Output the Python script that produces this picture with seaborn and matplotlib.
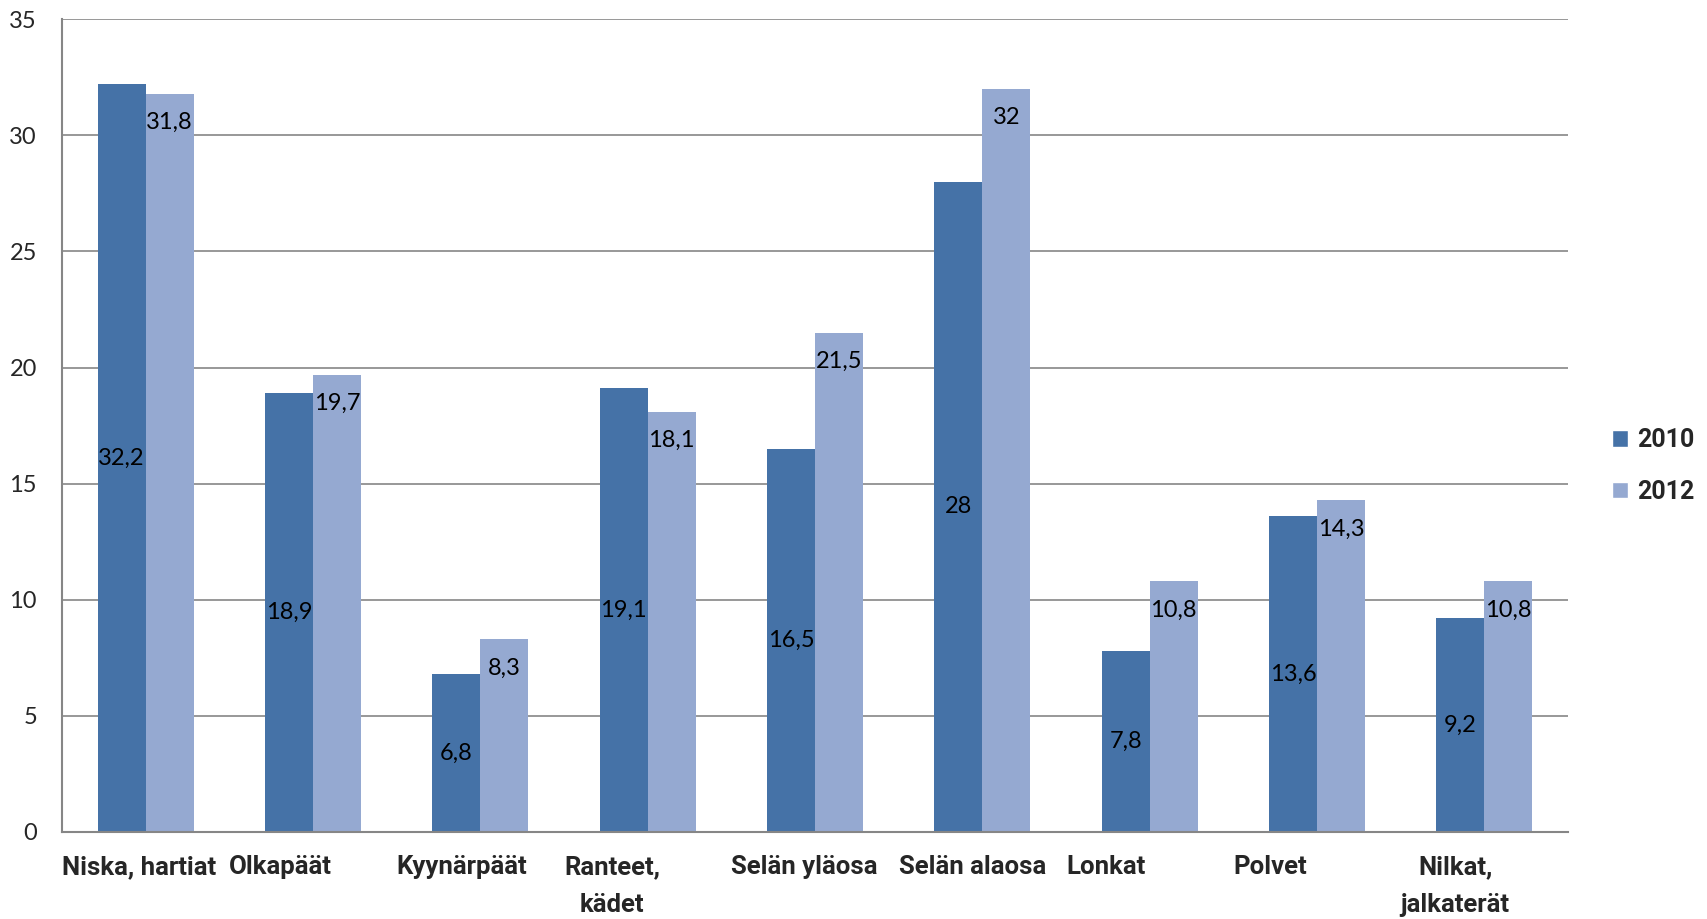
import matplotlib
matplotlib.use('Agg')
import matplotlib.pyplot as plt
import matplotlib.transforms as mtransforms
from matplotlib.patches import Patch
import seaborn as sns
import pandas as pd

# Tuki- ja liikuntaelinoireet kehon alueittain, 2010 vs 2012
alueet = ['Niska, hartiat', 'Olkapäät', 'Kyynärpäät', 'Ranteet,\nkädet',
          'Selän yläosa', 'Selän alaosa', 'Lonkat', 'Polvet', 'Nilkat,\njalkaterät']
vuodet = ['2010', '2012']
arvot_2010 = [32.2, 18.9, 6.8, 19.1, 16.5, 28, 7.8, 13.6, 9.2]
arvot_2012 = [31.8, 19.7, 8.3, 18.1, 21.5, 32, 10.8, 14.3, 10.8]
y_ticks = [0, 5, 10, 15, 20, 25, 30, 35]

df = pd.DataFrame({
    'alue': alueet * 2,
    'vuosi': [vuodet[0]] * len(alueet) + [vuodet[1]] * len(alueet),
    'arvo': arvot_2010 + arvot_2012,
})

sns.set_style('white')
plt.rcParams['font.family'] = ['Lato', 'DejaVu Sans']

varit = ['#4572A7', '#95A9D1']
harmaa = '#868686'
lihava = ['Roboto', 'DejaVu Sans']

fig = plt.figure(figsize=(17.07, 9.19), dpi=100)
ax = fig.add_axes([0.0363, 0.0947, 0.8823, 0.8843])

sns.barplot(data=df, x='alue', y='arvo', hue='vuosi', palette=varit,
            width=0.575, gap=0, saturation=1, legend=False, ax=ax,
            edgecolor='none', linewidth=0)

ax.set_xlim(-0.5, len(alueet) - 0.5)
ax.set_ylim(0, 35)
ax.set_yticks(y_ticks)
ax.set_yticklabels([str(t) for t in y_ticks], fontsize=17)
ax.yaxis.grid(True, color=harmaa, linewidth=1.2)
ax.set_axisbelow(True)

# tick marks at category boundaries, labels drawn separately
ax.set_xticks([i - 0.5 for i in range(len(alueet) + 1)])
ax.set_xticklabels([])
ax.tick_params(axis='x', length=6, width=1.2, color=harmaa, direction='out')
ax.tick_params(axis='y', length=6, width=1.2, color=harmaa, direction='out', pad=12)
ax.set_xlabel('')
ax.set_ylabel('')

for s in ['top', 'right']:
    ax.spines[s].set_visible(False)
for s in ['left', 'bottom']:
    ax.spines[s].set_color(harmaa)
    ax.spines[s].set_linewidth(1.5)

trans = mtransforms.blended_transform_factory(ax.transData, ax.transAxes)
for i, nimi in enumerate(alueet):
    ax.text(i - 0.5, -0.028, nimi, transform=trans, ha='left', va='top',
            multialignment='center', fontsize=18.5, fontweight='bold',
            family=lihava, linespacing=1.75)

def muoto(v):
    return f'{v:g}'.replace('.', ',')

# 2010: label in the middle of the bar, 2012: label near the top of the bar
for rect, v in zip(ax.containers[0], arvot_2010):
    ax.text(rect.get_x() + rect.get_width() / 2, v / 2, muoto(v),
            ha='center', va='center', fontsize=17, color='black')
for rect, v in zip(ax.containers[1], arvot_2012):
    ax.text(rect.get_x() + rect.get_width() / 2, v - 1.25, muoto(v),
            ha='center', va='center', fontsize=17, color='black')

kahvat = [Patch(facecolor=varit[0], label=vuodet[0]),
          Patch(facecolor=varit[1], label=vuodet[1])]
leg = fig.legend(handles=kahvat, loc='center left', bbox_to_anchor=(0.9444, 0.493),
                 frameon=False, borderpad=0, borderaxespad=0,
                 handlelength=0.65, handleheight=0.65,
                 handletextpad=0.35, labelspacing=1.1,
                 prop={'size': 18, 'weight': 'bold', 'family': lihava})

fig.savefig('out.png', dpi=100)
